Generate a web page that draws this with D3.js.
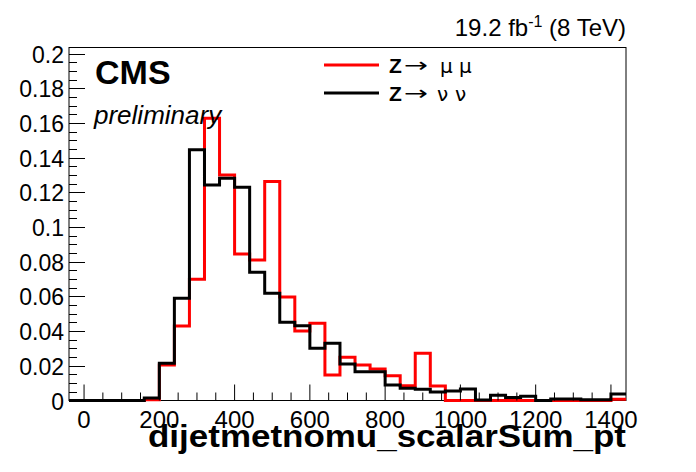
<!DOCTYPE html>
<html><head><meta charset="utf-8">
<script src="https://cdn.jsdelivr.net/npm/d3@7"></script>
<style>
body{margin:0;background:#fff;}
svg{display:block;font-family:"Liberation Sans",Arial,sans-serif;}
</style></head>
<body>
<svg id="c" width="696" height="472"></svg>
<script>
// bin edges: -40 .. 1440, width 40
const binStart = -40, binWidth = 40;
const zmumu = [0,0,0,0,0,0.0004,0.0205,0.043,0.0699,0.1627,0.130,0.0845,0.081,0.1262,0.0597,0.0401,0.0445,0.0147,0.0249,0.0205,0.0182,0.0143,0.0085,0.0272,0.0084,0,0,0,0,0,0,0,0,0,0,0,0.0007];
const znunu = [0,0,0,0,0,0.0014,0.0215,0.0589,0.1445,0.1243,0.1281,0.123,0.0739,0.0618,0.0451,0.0431,0.0301,0.033,0.021,0.0166,0.0166,0.0089,0.007,0.0065,0.0049,0.0055,0.0066,0.0003,0.003,0.0018,0.0025,0,0.0009,0.0009,0.0005,0.0005,0.0037];
const xTicks = [0,200,400,600,800,1000,1200,1400];
const yTicks = [0,0.02,0.04,0.06,0.08,0.1,0.12,0.14,0.16,0.18,0.2];
const yTickLabels = ["0","0.02","0.04","0.06","0.08","0.1","0.12","0.14","0.16","0.18","0.2"];

const svg = d3.select("#c");
const L=69, R=626, T=47.5, B=400.5;
const x = d3.scaleLinear().domain([-40,1440]).range([L,R]);
const y = d3.scaleLinear().domain([0,0.2035]).range([B,T]);

// frame
svg.append("rect").attr("x",L).attr("y",T).attr("width",R-L).attr("height",B-T)
  .attr("fill","none").attr("stroke","#000").attr("stroke-width",1);

// histograms
function pts(vals){
  const p = vals.map((v,i)=>[binStart+i*binWidth, v]);
  p.push([binStart+vals.length*binWidth, vals[vals.length-1]]);
  return p;
}
const line = d3.line().x(d=>x(d[0])).y(d=>y(d[1])).curve(d3.curveStepAfter);
svg.append("path").attr("d",line(pts(zmumu))).attr("fill","none").attr("stroke","#ff0000").attr("stroke-width",3);
svg.append("path").attr("d",line(pts(znunu))).attr("fill","none").attr("stroke","#000").attr("stroke-width",3);

// x ticks
const xMinor = d3.range(-0, 1441, 50);
svg.append("g").selectAll("line").data(xMinor).join("line")
  .attr("x1",d=>x(d)).attr("x2",d=>x(d))
  .attr("y1",B).attr("y2",d=>B-(d%200===0?16:8))
  .attr("stroke","#000").attr("stroke-width",1);
svg.append("g").selectAll("text").data(xTicks).join("text")
  .attr("x",d=>x(d)).attr("y",428).attr("text-anchor","middle")
  .attr("font-size",24).text(d=>d);

// y ticks
const yMinor = d3.range(0, 41).map(i=>i*0.005);
svg.append("g").selectAll("line").data(yMinor).join("line")
  .attr("x1",L).attr("x2",(d,i)=>L+(i%4===0?16:8))
  .attr("y1",d=>Math.round(y(d))+0.5).attr("y2",d=>Math.round(y(d))+0.5)
  .attr("stroke","#000").attr("stroke-width",1);
svg.append("g").selectAll("text").data(yTicks).join("text")
  .attr("x",64).attr("y",d=>y(d)+9).attr("text-anchor","end")
  .attr("font-size",23).text((d,i)=>yTickLabels[i]);

// title
svg.append("text").attr("x",626).attr("y",447).attr("text-anchor","end")
  .attr("font-size",31).attr("font-weight","bold")
  .attr("textLength",478).attr("lengthAdjust","spacingAndGlyphs")
  .text("dijetmetnomu_scalarSum_pt");

// CMS labels
svg.append("text").attr("x",95).attr("y",84).attr("font-size",34).attr("font-weight","bold").text("CMS");
svg.append("text").attr("x",94).attr("y",124).attr("font-size",26).attr("font-style","italic").text("preliminary");

// lumi
const lt = svg.append("text").attr("x",626).attr("y",36).attr("text-anchor","end").attr("font-size",24);
lt.append("tspan").text("19.2 fb");
lt.append("tspan").attr("font-size",16).attr("dy",-9).text("-1");
lt.append("tspan").attr("dy",9).text(" (8 TeV)");

// legend
const leg = [{c:"#ff0000", g:"μ", y:65, gx:[440,459]},{c:"#000", g:"ν", y:93, gx:[437,455]}];
leg.forEach(d=>{
  svg.append("line").attr("x1",324).attr("x2",379).attr("y1",d.y).attr("y2",d.y)
    .attr("stroke",d.c).attr("stroke-width",3);
  svg.append("text").attr("x",389).attr("y",d.y+8).attr("font-size",21).attr("font-weight","bold").text("Z");
  svg.append("text").attr("x",404).attr("y",d.y+7).attr("font-size",20).attr("font-family","DejaVu Sans")
    .attr("textLength",24).attr("lengthAdjust","spacingAndGlyphs").text("→");
  d.gx.forEach(gx=>svg.append("text").attr("x",gx).attr("y",d.y+8).attr("font-size",20).attr("font-family","DejaVu Sans").text(d.g));
});
</script>
</body></html>
